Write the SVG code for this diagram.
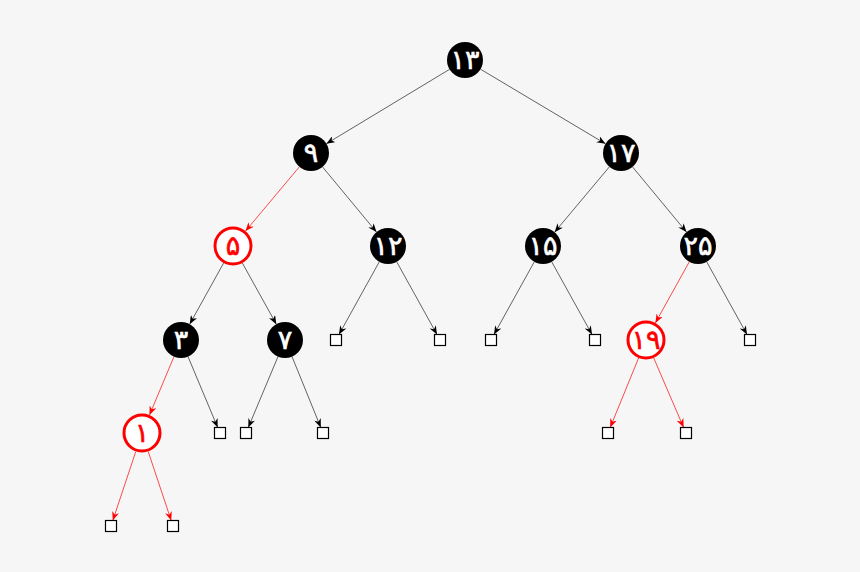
<svg xmlns="http://www.w3.org/2000/svg" width="860" height="572" viewBox="0 0 860 572">
<defs>
<marker id="ab" viewBox="0 0 10 8" refX="10" refY="4" markerWidth="9" markerHeight="7" markerUnits="userSpaceOnUse" orient="auto">
<path d="M0,0 L10,4 L0,8 L3,4 z" fill="#000"/>
</marker>
<marker id="ar" viewBox="0 0 10 8" refX="10" refY="4" markerWidth="9" markerHeight="7" markerUnits="userSpaceOnUse" orient="auto">
<path d="M0,0 L10,4 L0,8 L3,4 z" fill="#f00"/>
</marker>
</defs>
<style>
.e{stroke:#222;stroke-width:0.7;fill:none;marker-end:url(#ab)}
.r{stroke:#f00;stroke-width:0.7;fill:none;marker-end:url(#ar)}
.bn circle{fill:#000}
.rn circle{fill:#fff;stroke:#f00;stroke-width:3}
.bn text{fill:#fff;stroke:#fff;stroke-width:0.6}
.rn text{fill:#f00;stroke:#f00;stroke-width:0.6}
text{font-family:"DejaVu Sans","Noto Sans",sans-serif;font-size:27px;font-weight:normal;text-anchor:middle}
.leaf{fill:#fff;stroke:#000;stroke-width:1.2}
</style>
<rect width="860" height="572" fill="#f6f6f6"/>
<g id="connectors">
<line class="e" x1="449.6" y1="69.3" x2="326.4" y2="143.7"/>
<line class="e" x1="480.5" y1="69.2" x2="605.5" y2="143.8"/>
<line class="r" x1="299.4" y1="166.8" x2="245.5" y2="231.1"/>
<line class="e" x1="322.5" y1="166.9" x2="376.5" y2="232.1"/>
<line class="e" x1="609.4" y1="166.8" x2="554.6" y2="232.2"/>
<line class="e" x1="632.5" y1="166.9" x2="686.5" y2="232.1"/>
<line class="e" x1="223.6" y1="263.1" x2="189.7" y2="324.2"/>
<line class="e" x1="242.4" y1="263.1" x2="276.3" y2="324.2"/>
<line class="e" x1="379.3" y1="261.8" x2="339" y2="334.5"/>
<line class="e" x1="396.7" y1="261.8" x2="437" y2="334.5"/>
<line class="e" x1="534.3" y1="261.8" x2="494" y2="334.5"/>
<line class="e" x1="551.7" y1="261.8" x2="592" y2="334.5"/>
<line class="r" x1="689.3" y1="261.8" x2="655.4" y2="322.9"/>
<line class="e" x1="706.7" y1="261.8" x2="747" y2="334.5"/>
<line class="r" x1="174" y1="356.6" x2="149.5" y2="415"/>
<line class="e" x1="188" y1="356.6" x2="217.7" y2="427.5"/>
<line class="e" x1="278" y1="356.6" x2="248.3" y2="427.5"/>
<line class="e" x1="292" y1="356.6" x2="320.8" y2="427.5"/>
<line class="r" x1="638.6" y1="358" x2="610.2" y2="427.5"/>
<line class="r" x1="653.7" y1="357.9" x2="683.6" y2="427.5"/>
<line class="r" x1="135.8" y1="451.5" x2="112.8" y2="520.5"/>
<line class="r" x1="148.2" y1="451.5" x2="171.2" y2="520.5"/>
</g>
<g id="n13" class="bn"><circle cx="465" cy="60" r="18"/><text x="465" y="69">۱۳</text></g>
<g id="n9" class="bn"><circle cx="311" cy="153" r="18"/><text x="311" y="162">۹</text></g>
<g id="n17" class="bn"><circle cx="621" cy="153" r="18"/><text x="621" y="162">۱۷</text></g>
<g id="n5" class="rn"><circle cx="233" cy="246" r="18"/><text x="233" y="255">۵</text></g>
<g id="n12" class="bn"><circle cx="388" cy="246" r="18"/><text x="388" y="255">۱۲</text></g>
<g id="n15" class="bn"><circle cx="543" cy="246" r="18"/><text x="543" y="255">۱۵</text></g>
<g id="n25" class="bn"><circle cx="698" cy="246" r="18"/><text x="698" y="255">۲۵</text></g>
<g id="n3" class="bn"><circle cx="181" cy="340" r="18"/><text x="181" y="349">۳</text></g>
<g id="n7" class="bn"><circle cx="285" cy="340" r="18"/><text x="285" y="349">۷</text></g>
<g id="n19" class="rn"><circle cx="646" cy="340" r="18"/><text x="646" y="349">۱۹</text></g>
<g id="n1" class="rn"><circle cx="142" cy="433" r="18"/><text x="142" y="442">۱</text></g>
<g id="leaf1"><rect class="leaf" x="330.5" y="334.5" width="11" height="11"/></g>
<g id="leaf2"><rect class="leaf" x="434.5" y="334.5" width="11" height="11"/></g>
<g id="leaf3"><rect class="leaf" x="485.5" y="334.5" width="11" height="11"/></g>
<g id="leaf4"><rect class="leaf" x="589.5" y="334.5" width="11" height="11"/></g>
<g id="leaf5"><rect class="leaf" x="744.5" y="334.5" width="11" height="11"/></g>
<g id="leaf6"><rect class="leaf" x="214.5" y="427.5" width="11" height="11"/></g>
<g id="leaf7"><rect class="leaf" x="240.5" y="427.5" width="11" height="11"/></g>
<g id="leaf8"><rect class="leaf" x="317.5" y="427.5" width="11" height="11"/></g>
<g id="leaf9"><rect class="leaf" x="602.5" y="427.5" width="11" height="11"/></g>
<g id="leaf10"><rect class="leaf" x="680.5" y="427.5" width="11" height="11"/></g>
<g id="leaf11"><rect class="leaf" x="105.5" y="520.5" width="11" height="11"/></g>
<g id="leaf12"><rect class="leaf" x="167.5" y="520.5" width="11" height="11"/></g>
</svg>
